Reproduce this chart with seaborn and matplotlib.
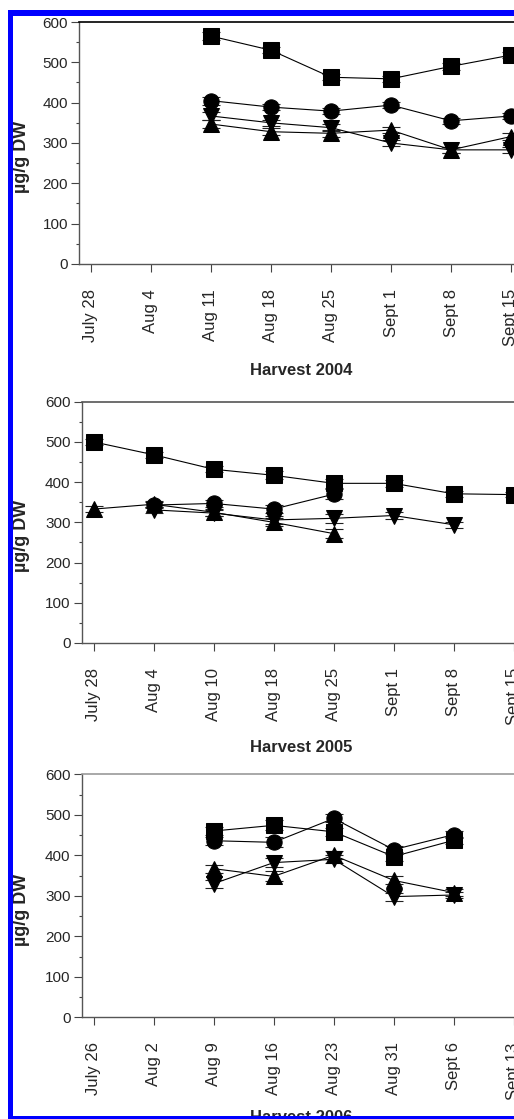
import numpy as np
import pandas as pd
import matplotlib
matplotlib.use("Agg")
import matplotlib.pyplot as plt
from matplotlib.patches import Rectangle
from matplotlib.ticker import MultipleLocator
import seaborn as sns

# ---------------- data ----------------
dates_2004 = ["July 28", "Aug 4", "Aug 11", "Aug 18", "Aug 25", "Sept 1", "Sept 8", "Sept 15"]
dates_2005 = ["July 28", "Aug 4", "Aug 10", "Aug 18", "Aug 25", "Sept 1", "Sept 8", "Sept 15"]
dates_2006 = ["July 26", "Aug 2", "Aug 9", "Aug 16", "Aug 23", "Aug 31", "Sept 6", "Sept 13"]

sq_2004 = [None, None, 565, 530, 463, 459, 490, 518]
ci_2004 = [None, None, 405, 389, 379, 394, 355, 367]
up_2004 = [None, None, 347, 328, 324, 332, 283, 316]
dn_2004 = [None, None, 367, 350, 338, 300, 283, 283]

sq_2005 = [500, 468, 432, 417, 397, 397, 371, 369]
ci_2005 = [None, 343, 347, 333, 370, None, None, None]
up_2005 = [333, 345, 325, 300, 272, None, None, None]
dn_2005 = [None, 331, 323, 306, 310, 317, 294, None]

sq_2006 = [None, None, 460, 474, 458, 397, 437, None]
ci_2006 = [None, None, 436, 432, 491, 414, 451, None]
up_2006 = [None, None, 367, 348, 400, 338, 308, None]
dn_2006 = [None, None, 330, 382, 390, 298, 302, None]

err_2004 = [None, None, 10, 8, 8, 8, 8, 8]
err_2005 = [8, 8, 8, 10, 12, 8, 8, 6]
err_2006 = [None, None, 10, 12, 10, 10, 8, None]

series_names = ["square", "circle", "up", "down"]
markers = {"square": "s", "circle": "o", "up": "^", "down": "v"}
titles = ["Harvest 2004", "Harvest 2005", "Harvest 2006"]

panels = [
    (dates_2004, [sq_2004, ci_2004, up_2004, dn_2004], err_2004),
    (dates_2005, [sq_2005, ci_2005, up_2005, dn_2005], err_2005),
    (dates_2006, [sq_2006, ci_2006, up_2006, dn_2006], err_2006),
]

# ---------------- style ----------------
sns.set_theme(style="ticks")
plt.rcParams["font.family"] = ["Liberation Sans", "DejaVu Sans"]

W, H = 514, 1119
fig = plt.figure(figsize=(W / 100, H / 100), dpi=100)
fig.patch.set_facecolor("white")

def fx(x):
    return x / W

def fy(y):
    return 1 - y / H

# axes geometry in pixels: (left spine x, top y, bottom y)
geo = [(79, 22, 264), (81.7, 401.7, 643), (81.7, 774.3, 1017.3)]
xlab_y = [370.7, 748, 1118]
top_spine_col = ["black", "#555555", "#9a9a9a"]

for i, ((dates, vals, err), (lx, ty, by)) in enumerate(zip(panels, geo)):
    rows = []
    for name, v in zip(series_names, vals):
        for k, val in enumerate(v):
            if val is not None:
                rows.append({"pos": k, "val": val, "series": name})
    df = pd.DataFrame(rows)

    width_px = 60 * 8.2
    ax = fig.add_axes([fx(lx), fy(by), width_px / W, (by - ty) / H])
    ax.set_facecolor("white")

    # error bars
    for name, v in zip(series_names, vals):
        xs = [k for k, val in enumerate(v) if val is not None]
        ys = [v[k] for k in xs]
        es = [err[k] if err[k] is not None else 0 for k in xs]
        ax.errorbar(xs, ys, yerr=es, fmt="none", ecolor="#222222",
                    elinewidth=0.8, capsize=6.5, capthick=0.8, zorder=2)

    sns.lineplot(data=df, x="pos", y="val", style="series", markers=markers,
                 dashes=False, color="black", markersize=11, linewidth=0.8,
                 markeredgecolor="black", ax=ax, legend=False,
                 style_order=series_names, zorder=3)

    ax.set_xlim(-0.2, 8.0)
    ax.set_ylim(0, 600)
    ax.set_xticks(range(len(dates)))
    ax.set_xticklabels(dates, rotation=90, fontsize=12)
    ax.yaxis.set_major_locator(MultipleLocator(100))
    ax.yaxis.set_minor_locator(MultipleLocator(50))
    ax.tick_params(axis="y", which="major", labelsize=11, length=6, width=0.8,
                   color="#444444", pad=2, direction="out")
    ax.tick_params(axis="y", which="minor", length=2.5, width=0.8, color="#444444")
    ax.tick_params(axis="x", which="major", length=6, width=0.8, color="#444444",
                   pad=12, direction="out")
    ax.set_xlabel("")
    ax.set_ylabel("")
    for s in ["left", "bottom"]:
        ax.spines[s].set_color("#555555")
        ax.spines[s].set_linewidth(1.0)
    ax.spines["top"].set_visible(True)
    ax.spines["top"].set_color(top_spine_col[i])
    ax.spines["top"].set_linewidth(1.2)
    ax.spines["right"].set_visible(False)

    fig.text(fx(301.5), fy(xlab_y[i]), titles[i], ha="center", va="center",
             fontsize=12, fontweight="bold")
    fig.text(fx(21.5), fy((ty + by) / 2 + 14), "µg/g DW", ha="center", va="center",
             rotation=90, fontsize=13, fontweight="bold")

# blue frame
blue = "#0000ff"
fig.add_artist(Rectangle((fx(8), fy(16)), 1, 6 / H, transform=fig.transFigure,
                         facecolor=blue, edgecolor="none", zorder=10))
fig.add_artist(Rectangle((fx(8), fy(H)), 5 / W, (H - 10) / H, transform=fig.transFigure,
                         facecolor=blue, edgecolor="none", zorder=10))
fig.add_artist(Rectangle((fx(8), fy(H)), 1, 3 / H, transform=fig.transFigure,
                         facecolor=blue, edgecolor="none", zorder=10))
# white strip above top bar
fig.add_artist(Rectangle((0, fy(10)), 1, 10 / H, transform=fig.transFigure,
                         facecolor="white", edgecolor="none", zorder=9))

fig.savefig("out.png", dpi=100)
